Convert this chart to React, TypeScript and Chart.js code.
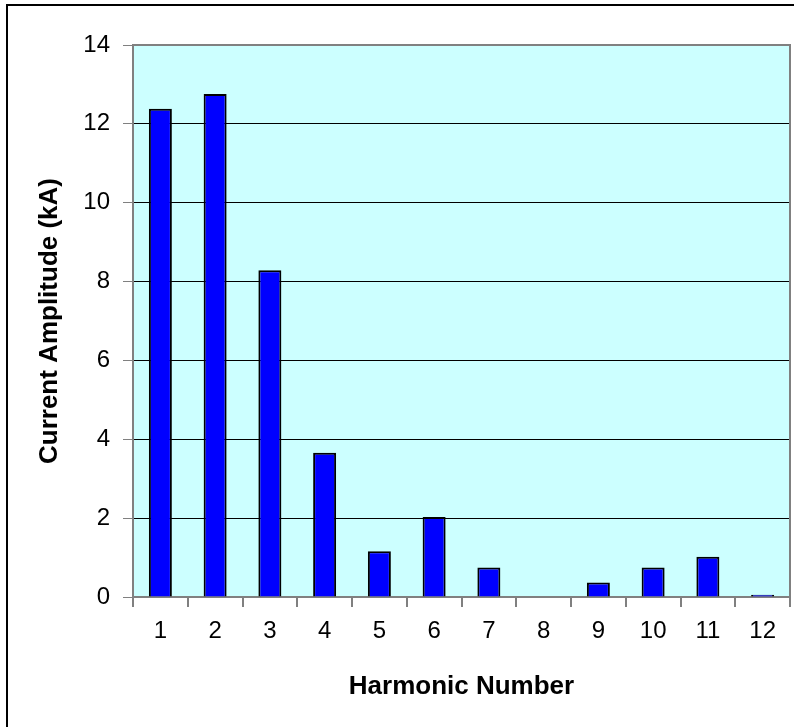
import React, { useEffect, useRef } from "react";
import { Chart, registerables } from "chart.js";

Chart.register(...registerables);

const categories = ["1", "2", "3", "4", "5", "6", "7", "8", "9", "10", "11", "12"];
const amplitudes = [12.38, 12.76, 8.29, 3.66, 1.16, 2.03, 0.75, 0, 0.37, 0.75, 1.02, 0.06];
const yTitle = "Current Amplitude (kA)";
const xTitle = "Harmonic Number";

const FONT = "'Liberation Sans', Arial, sans-serif";

const plotAreaPlugin = {
  id: "plotArea",
  beforeDraw(chart: any) {
    const { ctx, chartArea } = chart;
    ctx.save();
    ctx.fillStyle = "#CCFFFF";
    ctx.fillRect(chartArea.left, chartArea.top, chartArea.right - chartArea.left, chartArea.bottom - chartArea.top);
    ctx.restore();
  },
  afterDraw(chart: any) {
    const { ctx, chartArea } = chart;
    ctx.save();
    ctx.strokeStyle = "#808080";
    ctx.lineWidth = 2;
    ctx.beginPath();
    ctx.moveTo(chartArea.left, chartArea.top);
    ctx.lineTo(chartArea.right, chartArea.top);
    ctx.lineTo(chartArea.right, chartArea.bottom);
    ctx.stroke();
    ctx.restore();
  },
};

export default function App() {
  const ref = useRef<HTMLCanvasElement | null>(null);

  useEffect(() => {
    document.body.style.margin = "0";
    document.body.style.overflow = "hidden";
    const chart = new Chart(ref.current as HTMLCanvasElement, {
      type: "bar",
      data: {
        labels: categories,
        datasets: [
          {
            data: amplitudes,
            backgroundColor: "#0000FF",
            borderColor: "#000000",
            borderWidth: 2,
            barPercentage: 0.42,
            categoryPercentage: 1,
          },
        ],
      },
      options: {
        animation: false,
        responsive: false,
        maintainAspectRatio: false,
        devicePixelRatio: 1,
        layout: { padding: { top: 45, right: 4, left: 0, bottom: 0 } },
        plugins: {
          legend: { display: false },
          tooltip: { enabled: false },
        },
        scales: {
          x: {
            offset: true,
            grid: {
              offset: true,
              drawOnChartArea: false,
              tickLength: 10,
              color: "#808080",
              tickColor: "#808080",
              lineWidth: 2,
            },
            border: { color: "#808080", width: 2 },
            ticks: {
              color: "#000",
              padding: 9.6,
              maxRotation: 0,
              font: { family: FONT, size: 24 },
            },
            title: {
              display: true,
              text: xTitle,
              color: "#000",
              padding: { top: 0, bottom: 24.4 },
              font: { family: FONT, size: 26, weight: "bold" },
            },
            afterFit: (scale: any) => {
              scale.height = 130;
            },
          },
          y: {
            min: 0,
            max: 14,
            ticks: {
              stepSize: 2,
              color: "#000",
              padding: 13,
              font: { family: FONT, size: 24 },
            },
            grid: {
              color: (ctx: any) =>
                ctx.tick && (ctx.tick.value === 0 || ctx.tick.value === 14) ? "#808080" : "#000000",
              tickColor: "#808080",
              tickLength: 10,
              lineWidth: 1,
            },
            border: { color: "#808080", width: 2 },
            title: {
              display: true,
              text: yTitle,
              color: "#000",
              padding: { top: 34, bottom: 0 },
              font: { family: FONT, size: 26, weight: "bold" },
            },
            afterFit: (scale: any) => {
              scale.width = 133;
            },
          },
        },
      },
      plugins: [plotAreaPlugin],
    });
    return () => chart.destroy();
  }, []);

  return (
    <div style={{ position: "relative", width: 794, height: 727, overflow: "hidden", background: "#fff" }}>
      <div
        style={{
          position: "absolute",
          left: 6,
          top: 4,
          width: 1000,
          height: 1000,
          border: "2px solid #000",
          boxSizing: "border-box",
        }}
      />
      <canvas ref={ref} width={794} height={727} style={{ position: "absolute", left: 0, top: 0, width: 794, height: 727 }} />
    </div>
  );
}
